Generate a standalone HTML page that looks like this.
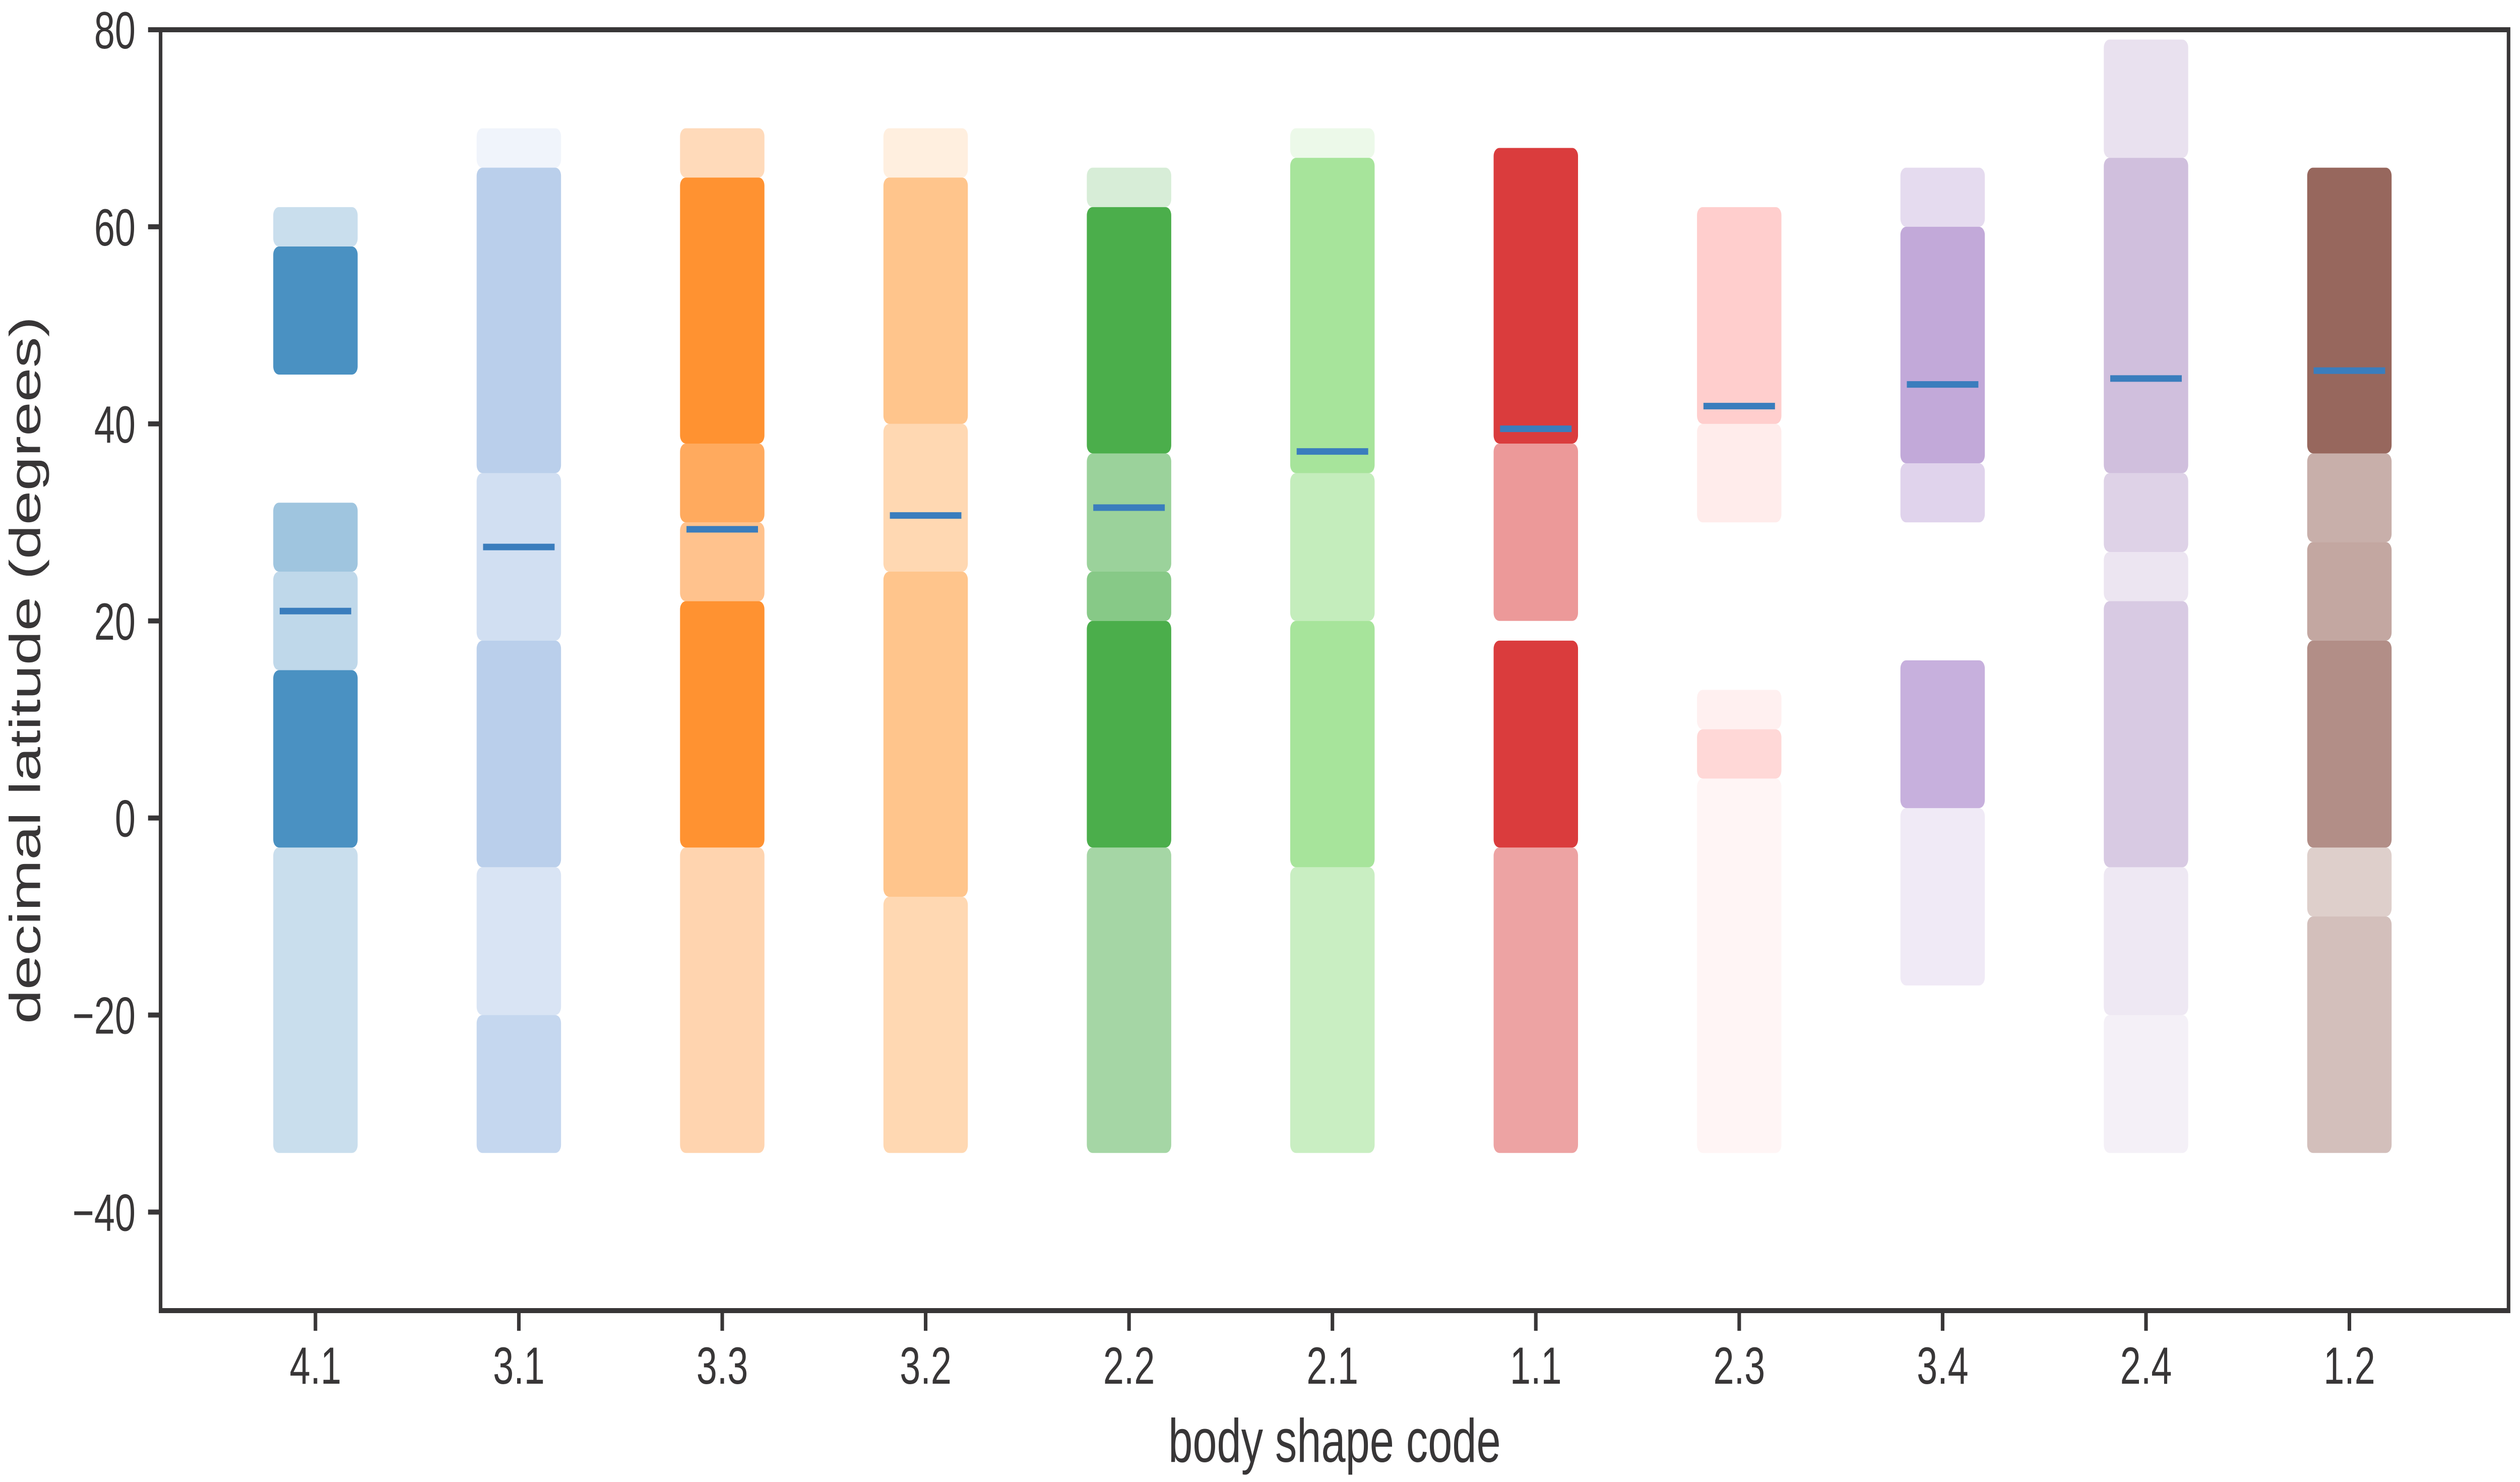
<!DOCTYPE html>
<html><head><meta charset="utf-8"><style>
html,body{margin:0;padding:0;background:#fff;width:100%;height:100%;overflow:hidden;}
svg{display:block;font-family:"Liberation Sans",sans-serif;width:100vw;height:100vh;}
</style></head><body>
<svg id="chart" viewBox="0 0 7046 2940" preserveAspectRatio="none">
<g id="marks"></g>
<g id="axes"></g>
</svg>
<script>
const categories = ["4.1","3.1","3.3","3.2","2.2","2.1","1.1","2.3","3.4","2.4","1.2"];
const colors = ["#1f77b4","#aec7e8","#ff7f0e","#ffbb78","#2ca02c","#98df8a","#d62728","#ff9896","#9467bd","#c5b0d5","#8c564b"];
const means = [21, 27.5, 29.3, 30.7, 31.5, 37.2, 39.5, 41.8, 44, 44.6, 45.4];
// latitude bands per category: [low, high, density]
const bands41 = [[45,58,0.85],[25,32,0.45],[-3,15,0.85],[15,25,0.3],[-34,-3,0.25],[58,62,0.25]];
const bands31 = [[35,66,0.9],[18,35,0.6],[-5,18,0.9],[-20,-5,0.5],[-34,-20,0.75],[66,70,0.2]];
const bands33 = [[38,65,0.9],[30,38,0.7],[65,70,0.3],[22,30,0.5],[-3,22,0.9],[-34,-3,0.35]];
const bands32 = [[40,65,0.9],[25,40,0.6],[-8,25,0.9],[-34,-8,0.6],[65,70,0.25]];
const bands22 = [[37,62,0.9],[25,37,0.5],[20,25,0.6],[-3,20,0.9],[-34,-3,0.45],[62,66,0.2]];
const bands21 = [[35,67,0.9],[20,35,0.6],[-5,20,0.9],[-34,-5,0.55],[67,70,0.2]];
const bands11 = [[38,68,0.95],[20,38,0.5],[-3,18,0.95],[-34,-3,0.45]];
const bands23 = [[40,62,0.5],[30,40,0.2],[4,9,0.4],[-34,4,0.1],[9,13,0.15]];
const bands34 = [[36,60,0.6],[30,36,0.3],[60,66,0.25],[1,16,0.55],[-17,1,0.15]];
const bands24 = [[35,67,0.85],[27,35,0.6],[67,79,0.4],[-5,22,0.7],[22,27,0.35],[-20,-5,0.3],[-34,-20,0.2]];
const bands12 = [[37,66,0.95],[28,37,0.5],[18,28,0.55],[-3,18,0.7],[-10,-3,0.3],[-34,-10,0.4]];
const allBands = [bands41,bands31,bands33,bands32,bands22,bands21,bands11,bands23,bands34,bands24,bands12];
const yTicks = [-40,-20,0,20,40,60,80];

const L=449,R=7014,T=59,B=2600;
const xPos = i => 882 + i*568.7;
const yPos = v => T + (80 - v)*(B-T)/130;
const NS="http://www.w3.org/2000/svg";
function mk(tag, attrs, parent){const e=document.createElementNS(NS,tag);for(const k in attrs)e.setAttribute(k,attrs[k]);parent.appendChild(e);return e;}
const marks=document.getElementById('marks'), axes=document.getElementById('axes');

categories.forEach((c,i)=>{
  const g=mk('g',{},marks);
  
  
  allBands[i].forEach(b=>{
    const r=mk('rect',{x:xPos(i)-118,y:yPos(b[1]),width:236,height:yPos(b[0])-yPos(b[1]),rx:16,fill:colors[i],'fill-opacity':Math.min(1,b[2]*0.95)},g);
    
    
  });
});
means.forEach((m,i)=>{
  const l=mk('line',{x1:xPos(i)-100,x2:xPos(i)+100,y1:yPos(m),y2:yPos(m),stroke:'#3a7dbd','stroke-width':13},marks);
  
  
});
const sp=mk('rect',{x:L,y:T,width:R-L,height:B-T,fill:'none',stroke:'#383637','stroke-width':10},axes);


yTicks.forEach(v=>{
  const t=mk('line',{x1:L-35,x2:L,y1:yPos(v),y2:yPos(v),stroke:'#383637','stroke-width':10},axes);
  
  
  const tx=mk('text',{x:379,y:yPos(v)+37,'text-anchor':'end','font-size':104,fill:'#383637'},axes);
  tx.textContent=(v<0?'\u2212'+(-v):String(v));
  
  
});
categories.forEach((c,i)=>{
  const t=mk('line',{x1:xPos(i),x2:xPos(i),y1:B,y2:B+40,stroke:'#383637','stroke-width':10},axes);
  
  
  const tx=mk('text',{x:xPos(i),y:2745,'text-anchor':'middle','font-size':104,fill:'#383637'},axes);
  tx.textContent=c;
  
  
});
const xl=mk('text',{x:(L+R)/2,y:2900,'text-anchor':'middle','font-size':122,fill:'#383637'},axes);
xl.textContent='body shape code';


const yl=mk('text',{x:0,y:0,'text-anchor':'middle','font-size':122,fill:'#383637',transform:'translate(112,'+((T+B)/2)+') rotate(-90)'},axes);
yl.textContent='decimal latitude (degrees)';


</script>
</body></html>
